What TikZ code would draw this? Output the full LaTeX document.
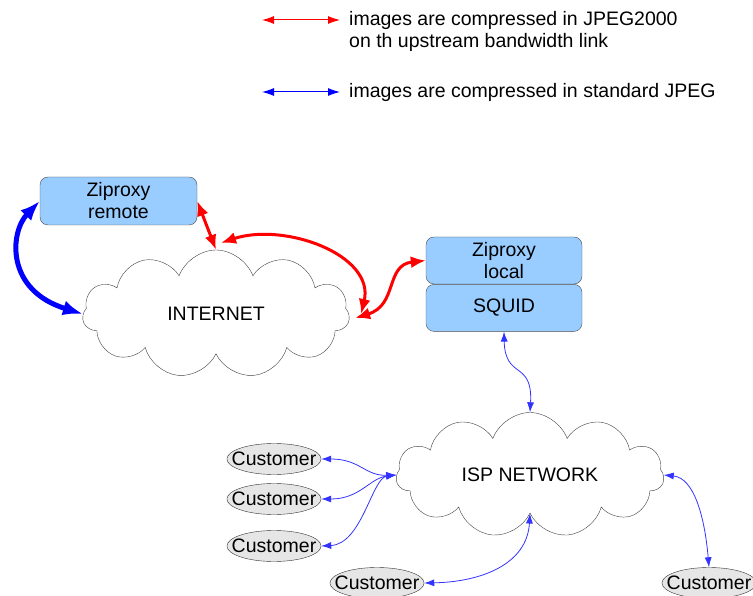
\documentclass[tikz,border=0pt]{standalone}
\usepackage{fontspec}
\setmainfont{Liberation Sans}
\usetikzlibrary{arrows.meta,positioning,shapes.symbols,shapes.geometric}
\definecolor{proxyblue}{HTML}{99CCFF}
\definecolor{custgray}{HTML}{E6E6E6}

\begin{document}
\begin{tikzpicture}[
  x=1pt, y=-1pt,
  font=\fontsize{19.5}{22}\selectfont,
  box/.style={draw=black!70, fill=proxyblue, rounded corners=8pt, align=center,
              minimum width=156pt, minimum height=47pt, inner sep=2pt},
  net/.style={cloud, cloud puffs=11, cloud puff arc=140, cloud ignores aspect,
              draw=black!75, thin},
  cust/.style={ellipse, draw=black!80, fill=custgray, minimum width=92pt,
               minimum height=31pt, inner xsep=-9pt, inner ysep=0pt},
  lbl/.style={anchor=west, align=left, inner sep=0pt},
  legred/.style={{Latex[length=12pt,width=8pt]}-{Latex[length=12pt,width=8pt]}, red, line width=1pt},
  legblue/.style={{Latex[length=12pt,width=8pt]}-{Latex[length=12pt,width=8pt]}, blue, line width=1pt},
  j2k/.style={{Latex[length=15pt,width=12pt]}-{Latex[length=15pt,width=12pt]}, red, line width=3pt},
  jpgthick/.style={{Latex[length=20pt,width=15pt]}-{Latex[length=20pt,width=15pt]}, blue, line width=5pt},
  jpg/.style={{Latex[length=10pt,width=7pt]}-{Latex[length=10pt,width=7pt]}, blue!80, line width=0.8pt}
]
\useasboundingbox (0,0) rectangle (753,596);
\clip (0,0) rectangle (753,596);

\coordinate (r1) at (262,20);
\coordinate (r2) at (340,20);
\coordinate (b1) at (262,92);
\coordinate (b2) at (340,92);
\draw[legred] (r1) -- (r2);
\draw[legblue] (b1) -- (b2);
\node[lbl] (legj2k) at (349,31) {images are compressed in JPEG2000\\on th upstream bandwidth link};
\node[lbl] (legjpg) at (349,92) {images are compressed in standard JPEG};

\node[box, minimum width=157pt, minimum height=48pt] (zremote) at (118.5,201) {Ziproxy\\remote};
\node[box] (zlocal) at (504,260.5) {Ziproxy\\local};
\node[box, below=0pt of zlocal] (squid) {SQUID};

\node[net, minimum width=267pt, minimum height=128pt] (inet) at (216,314) {INTERNET};
\node[net, minimum width=268pt, minimum height=125pt] (isp) at (530,475) {ISP NETWORK};

\node[cust] (c1) at (274,459) {Customer};
\node[cust] (c2) at (274,499) {Customer};
\node[cust] (c3) at (274,546) {Customer};
\node[cust] (c4) at (377,583) {Customer};
\node[cust] (c5) at (709,583) {Customer};

\draw[jpgthick] (zremote.west) .. controls (10,232) and (5,290) .. (inet.west);
\draw[j2k] (zremote.east) -- (inet.north);
\draw[j2k] ([shift={(5,-7)}]inet.north) .. controls (285,222) and (375,255) .. ([xshift=12]inet.east);
\draw[j2k] ([shift={(6,4)}]inet.east) .. controls (398,305) and (385,265) .. (zlocal.west);

\draw[jpg] (squid.south) .. controls (505,380) and (533,360) .. (isp.north);
\draw[jpg] (isp.west) .. controls (365,476) and (360,459) .. (c1.east);
\draw[jpg] (isp.west) .. controls (370,478) and (360,499) .. (c2.east);
\draw[jpg] (isp.west) .. controls (372,478) and (362,544) .. (c3.east);
\draw[jpg] (isp.south) .. controls (527,565) and (480,582) .. (c4.east);
\draw[jpg] (isp.east) .. controls (695,478) and (705,520) .. (c5.north);
\end{tikzpicture}
\end{document}
